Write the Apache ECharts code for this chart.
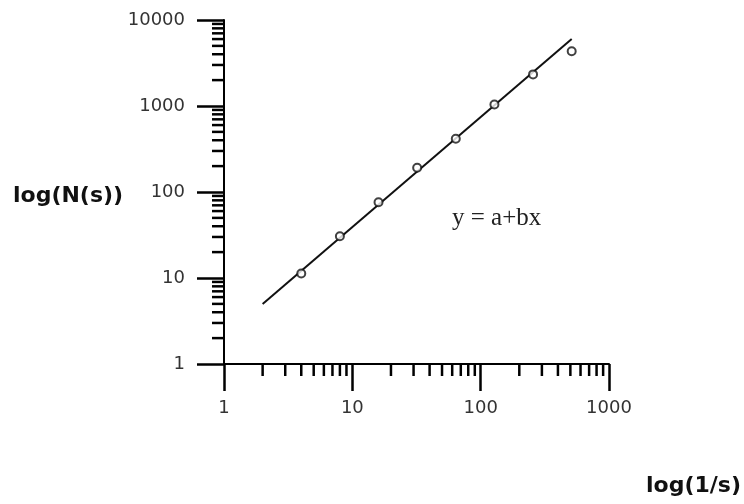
<!DOCTYPE html>
<html>
<head>
  <meta charset="utf-8">
  <title>log(N(s)) vs log(1/s)</title>
  <script src="https://cdn.jsdelivr.net/npm/echarts@6/dist/echarts.min.js"></script>
  <style>
    html, body { margin: 0; padding: 0; background: #fff; }
    #chart { width: 744px; height: 504px; }
  </style>
</head>
<body>
<div id="chart"></div>
<script>
  // box sizes (1/s) and counted boxes N(s)
  var boxScale = [4, 8, 16, 32, 64, 128, 256, 512];
  var boxCount = [11.3, 30.6, 76, 191, 417, 1040, 2330, 4340];

  // fitted line end points
  var fitX = [2, 512];
  var fitY = [5, 6000];

  // minor tick values (log decades)
  var xMinorTicks = [2, 3, 4, 5, 6, 7, 8, 9, 20, 30, 40, 50, 60, 70, 80, 90, 200, 300, 400, 500, 600, 700, 800, 900];
  var yMinorTicks = [2, 3, 4, 5, 6, 7, 8, 9, 20, 30, 40, 50, 60, 70, 80, 90, 200, 300, 400, 500, 600, 700, 800, 900,
    2000, 3000, 4000, 5000, 6000, 7000, 8000, 9000];

  var MINOR_LEN = 12;
  var labelFont = 'DejaVu Sans';

  function minorTick(dir) {
    return function (params, api) {
      var p = api.coord([api.value(0), api.value(1)]);
      var q = dir === 'x' ? [p[0], p[1] + MINOR_LEN] : [p[0] - MINOR_LEN, p[1]];
      return {
        type: 'line',
        shape: {x1: p[0], y1: p[1], x2: q[0], y2: q[1]},
        style: {stroke: '#000', lineWidth: 2.5}
      };
    };
  }

  // plain numbers, no thousands separator
  function plain(v) {
    return String(Math.round(v));
  }

  var chart = echarts.init(document.getElementById('chart'));
  chart.setOption({
    animation: false,
    backgroundColor: '#fff',
    grid: {left: 224, right: 135, top: 20, bottom: 140},
    xAxis: {
      type: 'log',
      logBase: 10,
      min: 1,
      max: 1000,
      axisLine: {lineStyle: {color: '#000', width: 2}},
      axisTick: {length: 27, lineStyle: {color: '#000', width: 2.5}},
      splitLine: {show: false},
      axisLabel: {margin: 35, color: '#333', fontFamily: labelFont, fontSize: 18, formatter: plain}
    },
    yAxis: {
      type: 'log',
      logBase: 10,
      min: 1,
      max: 10000,
      axisLine: {lineStyle: {color: '#000', width: 2}},
      axisTick: {length: 27, lineStyle: {color: '#000', width: 2.5}},
      splitLine: {show: false},
      axisLabel: {margin: 39, color: '#333', fontFamily: labelFont, fontSize: 18, formatter: plain}
    },
    graphic: [
      {
        type: 'text', left: 13, top: 185,
        style: {text: 'log(N(s))', fill: '#111', font: 'bold 22px "DejaVu Sans"'}
      },
      {
        type: 'text', left: 646, top: 475,
        style: {text: 'log(1/s)', fill: '#111', font: 'bold 22px "DejaVu Sans"'}
      },
      {
        type: 'text', left: 452, top: 206,
        style: {text: 'y = a+bx', fill: '#222', font: '25px "Liberation Serif"'}
      }
    ],
    series: [
      {
        // regression line
        type: 'line',
        data: fitX.map(function (x, i) { return [x, fitY[i]]; }),
        showSymbol: false,
        lineStyle: {color: '#111', width: 2},
        z: 3
      },
      {
        type: 'scatter',
        data: boxScale.map(function (x, i) { return [x, boxCount[i]]; }),
        symbol: 'circle',
        symbolSize: 8,
        itemStyle: {color: '#fff', borderColor: '#111', borderWidth: 2},
        z: 4
      },
      {
        type: 'custom',
        renderItem: minorTick('x'),
        data: xMinorTicks.map(function (v) { return [v, 1]; }),
        clip: false,
        silent: true
      },
      {
        type: 'custom',
        renderItem: minorTick('y'),
        data: yMinorTicks.map(function (v) { return [1, v]; }),
        clip: false,
        silent: true
      }
    ]
  });
</script>
</body>
</html>
